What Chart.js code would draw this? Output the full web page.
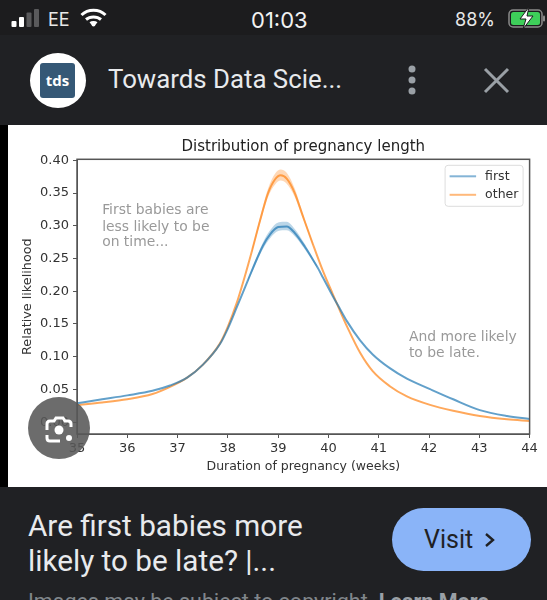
<!DOCTYPE html>
<html>
<head>
<meta charset="utf-8">
<script src="https://cdn.jsdelivr.net/npm/chart.js@4"></script>
<style>
  html, body { margin: 0; padding: 0; width: 547px; height: 600px; overflow: hidden; background: #202124; }
  body { position: relative; font-family: Roboto, sans-serif; color: #e8eaed; }
  .abs { position: absolute; white-space: nowrap; line-height: 1; }
  #status { left: 0; top: 0; width: 547px; height: 35px; background: #1c1c1e; }
  #strip { left: 0; top: 125px; width: 8px; height: 362px; background: #000; }
  #plot { left: 8px; top: 125px; width: 539px; height: 362px; background: #fff; }
  #pregnancyChart { filter: blur(0.4px); }
  #lens { left: 28px; top: 397px; width: 62px; height: 62px; border-radius: 50%; background: rgba(88,88,88,.88); }
  #visit { left: 392px; top: 508px; width: 139px; height: 63px; border-radius: 32px; background: #8ab4f8; color: #202124; }
</style>
</head>
<body>
<div class="abs" id="status"></div>
<svg class="abs" style="left:11px;top:8px" width="30" height="20">
  <rect x="0.5" y="13" width="5" height="6" rx="1" fill="#fff"/>
  <rect x="8" y="9" width="5" height="10" rx="1" fill="#fff"/>
  <rect x="15.5" y="4.5" width="5" height="14.5" rx="1" fill="#5a5a5c"/>
  <rect x="23" y="1" width="5" height="18" rx="1" fill="#5a5a5c"/>
</svg>
<div class="abs" style="left:48px;top:9px;font:18px Inter,sans-serif;color:#e8e8e8">EE</div>
<svg class="abs" style="left:80px;top:8px" width="27" height="20" fill="none" stroke="#fff" stroke-width="3">
  <path d="M1.5 7 C8 0.5 19 0.5 25.5 7"/>
  <path d="M6 11.5 C10 8 17 8 21 11.5"/>
  <circle cx="13.5" cy="16.5" r="2" fill="#fff" stroke="none"/>
  <path d="M10.5 15.5 C12 14.2 15 14.2 16.5 15.5"/>
</svg>
<div class="abs" style="left:251px;top:7px;font:22px Inter,sans-serif;color:#f2f2f2">01:03</div>
<div class="abs" style="left:455px;top:9px;font:18px Inter,sans-serif;color:#e8e8e8">88%</div>
<svg class="abs" style="left:508px;top:6px" width="38" height="24">
  <rect x="1" y="4" width="33" height="17" rx="4" fill="none" stroke="#8a8a8a" stroke-width="1.5"/>
  <rect x="3" y="6" width="29" height="13" rx="2.5" fill="#3ecf5a"/>
  <rect x="35" y="9.5" width="2" height="6" rx="1" fill="#8a8a8a"/>
  <path d="M21 1 L12 13 L18 13 L15 23 L25 10 L19 10 Z" fill="#fff" stroke="#1c1c1e" stroke-width="1"/>
</svg>

<div class="abs" style="left:30px;top:53px;width:56px;height:55px;border-radius:50%;background:#fff"></div>
<div class="abs" style="left:40px;top:63px;width:35px;height:35px;border-radius:3px;background:#355876;color:#fff;font:bold 15px 'Open Sans',sans-serif;text-align:center;line-height:35px">tds</div>
<div class="abs" style="left:108px;top:64px;font:25.8px Roboto,sans-serif;color:#e8eaed">Towards Data Scie...</div>
<svg class="abs" style="left:404px;top:64px" width="16" height="32" fill="#9aa0a6">
  <circle cx="8" cy="5" r="3.5"/><circle cx="8" cy="16" r="3.5"/><circle cx="8" cy="27" r="3.5"/>
</svg>
<svg class="abs" style="left:483px;top:67px" width="27" height="27" stroke="#9aa0a6" stroke-width="3" fill="none">
  <path d="M2 2 L25 25 M25 2 L2 25"/>
</svg>

<div class="abs" id="strip"></div>
<div class="abs" id="plot"><canvas id="pregnancyChart" width="539" height="362"></canvas></div>
<div class="abs" id="lens">
  <svg width="62" height="62" fill="none" stroke="#fff" stroke-width="3">
    <path d="M19 33 V27 Q19 24 22 24 H26 L28 21 H35 L37 24 H40 Q43 24 43 27 V30"/>
    <path d="M19 38 V41 Q19 44 22 44 H32"/>
    <circle cx="31" cy="33" r="4.5" fill="#fff" stroke="none"/>
    <circle cx="41" cy="41" r="3" fill="#fff" stroke="none"/>
  </svg>
</div>

<div class="abs" style="left:28px;top:508px;font:29.7px Roboto,sans-serif">Are first babies more</div>
<div class="abs" style="left:28px;top:543px;font:29.7px Roboto,sans-serif">likely to be late? |...</div>
<div class="abs" id="visit"></div>
<div class="abs" style="left:424px;top:525px;font:25px Roboto,sans-serif;color:#202124">Visit</div>
<svg class="abs" style="left:483px;top:531px" width="14" height="18" fill="none" stroke="#202124" stroke-width="2.4">
  <path d="M3 3 L10 9 L3 15"/>
</svg>
<div class="abs" style="left:28px;top:589px;font:21.5px Roboto,sans-serif;color:#80868b">Images may be subject to copyright. <b style="color:#9aa0a6">Learn More</b></div>

<script>
const chartTitle = 'Distribution of pregnancy length';
const xLabel = 'Duration of pregnancy (weeks)';
const yLabel = 'Relative likelihood';
const xTicks = [35, 36, 37, 38, 39, 40, 41, 42, 43, 44];
const yTicks = [0, 0.05, 0.1, 0.15, 0.2, 0.25, 0.3, 0.35, 0.4];

const firstWeeks = [35, 35.5, 36, 36.5, 36.85, 37.19, 37.5, 37.84, 38, 38.18, 38.4, 38.58, 38.7, 38.84, 39, 39.17, 39.33, 39.53, 39.77, 39.89, 40.09, 40.23, 40.37, 40.63, 40.88, 41.22, 41.56, 42.02, 42.48, 43.01, 43.55, 44];
const firstValues = [0.029, 0.035, 0.041, 0.048, 0.056, 0.068, 0.0875, 0.119, 0.143, 0.176, 0.217, 0.25, 0.27, 0.287, 0.298, 0.299, 0.289, 0.268, 0.238, 0.221, 0.192, 0.173, 0.154, 0.125, 0.1035, 0.0825, 0.0665, 0.0505, 0.035, 0.0185, 0.0095, 0.005];
const otherWeeks = [35, 35.5, 36, 36.5, 36.85, 37.19, 37.5, 37.84, 38, 38.18, 38.3, 38.48, 38.64, 38.8, 38.94, 39.05, 39.17, 39.33, 39.49, 39.69, 39.89, 40.09, 40.23, 40.37, 40.63, 40.88, 41.22, 41.56, 42.02, 42.48, 43.01, 43.55, 44];
const otherValues = [0.026, 0.03, 0.035, 0.043, 0.054, 0.068, 0.0875, 0.12, 0.146, 0.183, 0.213, 0.262, 0.308, 0.35, 0.371, 0.377, 0.372, 0.35, 0.315, 0.272, 0.231, 0.195, 0.17, 0.146, 0.106, 0.078, 0.055, 0.0395, 0.0265, 0.0175, 0.0095, 0.0045, 0.002];

// shaded bands round the peak
const firstBandWeeks = [38.4, 38.58, 38.7, 38.84, 39, 39.17, 39.33, 39.53, 39.77];
const firstBandLow = [0.215, 0.246, 0.265, 0.281, 0.292, 0.293, 0.284, 0.264, 0.236];
const firstBandHigh = [0.219, 0.254, 0.275, 0.293, 0.305, 0.306, 0.295, 0.272, 0.24];
const otherBandWeeks = [38.48, 38.64, 38.8, 38.94, 39.05, 39.17, 39.33, 39.49, 39.69];
const otherBandLow = [0.259, 0.303, 0.344, 0.363, 0.369, 0.364, 0.344, 0.311, 0.27];
const otherBandHigh = [0.265, 0.313, 0.357, 0.38, 0.386, 0.381, 0.357, 0.319, 0.274];

const noteFirst = ['First babies are', 'less likely to be', 'on time...'];
const noteFirstY = [0.323, 0.298, 0.274];
const noteLate = ['And more likely', 'to be late.'];
const noteLateY = [0.13, 0.105];
const legendNames = ['first', 'other'];

const blue = 'rgba(31,119,180,0.7)';
const orange = 'rgba(255,127,14,0.68)';
const blueFill = 'rgba(31,119,180,0.3)';
const orangeFill = 'rgba(255,127,14,0.3)';
const tickColor = '#333';
const spineColor = '#555';
const fontName = '"DejaVu Sans", sans-serif';

const pairs = (xs, ys) => xs.map((x, i) => ({ x: x, y: ys[i] }));

const bandSet = (xs, ys, color, fill) => ({
  data: pairs(xs, ys),
  borderWidth: 0,
  pointRadius: 0,
  backgroundColor: color,
  fill: fill,
  cubicInterpolationMode: 'monotone',
});

const lineSet = (name, xs, ys, color) => ({
  label: name,
  data: pairs(xs, ys),
  borderColor: color,
  borderWidth: 2,
  pointRadius: 0,
  fill: false,
  cubicInterpolationMode: 'monotone',
});

// spines, notes and legend sit inside the axes like matplotlib has them
const extras = {
  id: 'extras',
  afterDatasetsDraw(chart) {
    const ctx = chart.ctx;
    const area = chart.chartArea;
    const x = chart.scales.x;
    const y = chart.scales.y;
    ctx.save();
    ctx.strokeStyle = spineColor;
    ctx.lineWidth = 1.5;
    ctx.strokeRect(area.left, area.top, area.right - area.left, area.bottom - area.top);

    ctx.font = '13.9px ' + fontName;
    ctx.fillStyle = '#999';
    ctx.textBaseline = 'middle';
    noteFirst.forEach((t, i) => ctx.fillText(t, x.getPixelForValue(35.5), y.getPixelForValue(noteFirstY[i])));
    noteLate.forEach((t, i) => ctx.fillText(t, x.getPixelForValue(41.6), y.getPixelForValue(noteLateY[i])));

    const left = area.right - 84.5;
    const top = area.top + 6;
    ctx.beginPath();
    ctx.roundRect(left, top, 78, 41, 3);
    ctx.fillStyle = 'rgba(255,255,255,0.85)';
    ctx.fill();
    ctx.strokeStyle = '#ddd';
    ctx.lineWidth = 1;
    ctx.stroke();
    ctx.font = '12.5px ' + fontName;
    legendNames.forEach((name, i) => {
      const rowY = top + 11 + i * 18.5;
      ctx.strokeStyle = i === 0 ? 'rgba(31,119,180,0.55)' : 'rgba(255,127,14,0.55)';
      ctx.lineWidth = 2;
      ctx.beginPath();
      ctx.moveTo(left + 4.5, rowY);
      ctx.lineTo(left + 31, rowY);
      ctx.stroke();
      ctx.fillStyle = tickColor;
      ctx.fillText(name, left + 40, rowY);
    });
    ctx.restore();
  },
};

new Chart(document.getElementById('pregnancyChart').getContext('2d'), {
  type: 'line',
  data: {
    datasets: [
      bandSet(firstBandWeeks, firstBandHigh, blueFill, '+1'),
      bandSet(firstBandWeeks, firstBandLow, blueFill, false),
      bandSet(otherBandWeeks, otherBandHigh, orangeFill, '+1'),
      bandSet(otherBandWeeks, otherBandLow, orangeFill, false),
      lineSet(legendNames[0], firstWeeks, firstValues, blue),
      lineSet(legendNames[1], otherWeeks, otherValues, orange),
    ],
  },
  plugins: [extras],
  options: {
    responsive: false,
    animation: false,
    layout: { padding: { left: 0, right: 17.4, top: 0, bottom: 0 } },
    plugins: {
      legend: { display: false },
      tooltip: { enabled: false },
      title: {
        display: true,
        text: chartTitle,
        fullSize: false,
        color: '#222',
        font: { family: fontName, size: 15, weight: 'normal' },
        padding: { top: 13.5, bottom: 2.8 },
      },
    },
    scales: {
      x: {
        type: 'linear',
        min: 35,
        max: 44,
        afterBuildTicks: (scale) => { scale.ticks = xTicks.map(v => ({ value: v })); },
        afterFit: (scale) => { scale.height = 53; },
        ticks: { color: tickColor, font: { family: fontName, size: 13 }, maxRotation: 0, autoSkip: false, padding: 3 },
        grid: { drawOnChartArea: false, drawTicks: true, tickLength: 4, tickColor: spineColor },
        border: { color: spineColor },
        title: { display: true, text: xLabel, color: tickColor, font: { family: fontName, size: 12.5 }, padding: { top: 0, bottom: 13 } },
      },
      y: {
        min: -0.018,
        max: 0.4015,
        afterBuildTicks: (scale) => { scale.ticks = yTicks.map(v => ({ value: v })); },
        afterFit: (scale) => { scale.width = 69; },
        ticks: { color: tickColor, font: { family: fontName, size: 13 }, padding: 4, callback: v => v.toFixed(2) },
        grid: { drawOnChartArea: false, drawTicks: true, tickLength: 4, tickColor: spineColor },
        border: { color: spineColor },
        title: { display: true, text: yLabel, color: tickColor, font: { family: fontName, size: 12.8 }, padding: { top: 12, bottom: 2 } },
      },
    },
  },
});
</script>
</body>
</html>
